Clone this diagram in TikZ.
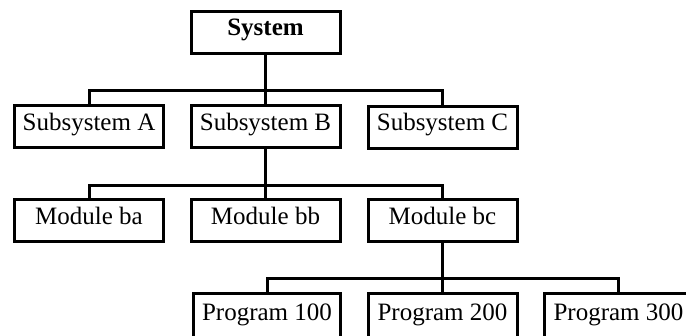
\documentclass[tikz,border=0pt]{standalone}
\usepackage{fontspec}
\setmainfont{Liberation Serif}
\begin{document}
\begin{tikzpicture}[x=1pt,y=-1pt,
  box/.style={draw=black,line width=3pt,fill=white,minimum width=149pt,minimum height=42pt,inner sep=0pt,
    font=\fontsize{25}{30}\selectfont,text height=17pt,text depth=10pt},
  conn/.style={draw=black,line width=3pt,line join=miter}]
\useasboundingbox (0,0) rectangle (686,335);
\clip (0,0) rectangle (686,335);
\fill[white] (0,0) rectangle (686,335);
% level 0
\node[box,font=\fontsize{25}{30}\selectfont\bfseries] (sys) at (265.5,32) {System};
% level 1
\node[box] (sa) at (89,126.5) {Subsystem A};
\node[box] (sb) at (265.5,126.5) {Subsystem B};
\node[box] (sc) at (442.5,127) {Subsystem C};
% level 2
\node[box] (ma) at (89,220.5) {Module ba};
\node[box] (mb) at (265.5,220.5) {Module bb};
\node[box] (mc) at (442.5,220.5) {Module bc};
% level 3
\node[box,minimum width=147pt,minimum height=46pt] (p1) at (267,316.5) {Program 100};
\node[box,minimum width=149pt,minimum height=46pt] (p2) at (442.5,316.5) {Program 200};
\node[box,minimum width=149pt,minimum height=46pt] (p3) at (618.5,316.5) {Program 300};
% connectors
\coordinate (j1) at (265.5,90);
\draw[conn] (sys.south) -- (j1) -- (sb.north);
\draw[conn] (sa.north) -- (sa.north |- j1) -- (sc.north |- j1) -- (sc.north);
\coordinate (j2) at (265.5,185);
\draw[conn] (sb.south) -- (j2) -- (mb.north);
\draw[conn] (ma.north) -- (ma.north |- j2) -- (mc.north |- j2) -- (mc.north);
\coordinate (j3) at (442.5,278);
\draw[conn] (mc.south) -- (j3) -- (p2.north);
\draw[conn] (p1.north) -- (p1.north |- j3) -- (p3.north |- j3) -- (p3.north);
\end{tikzpicture}
\end{document}
